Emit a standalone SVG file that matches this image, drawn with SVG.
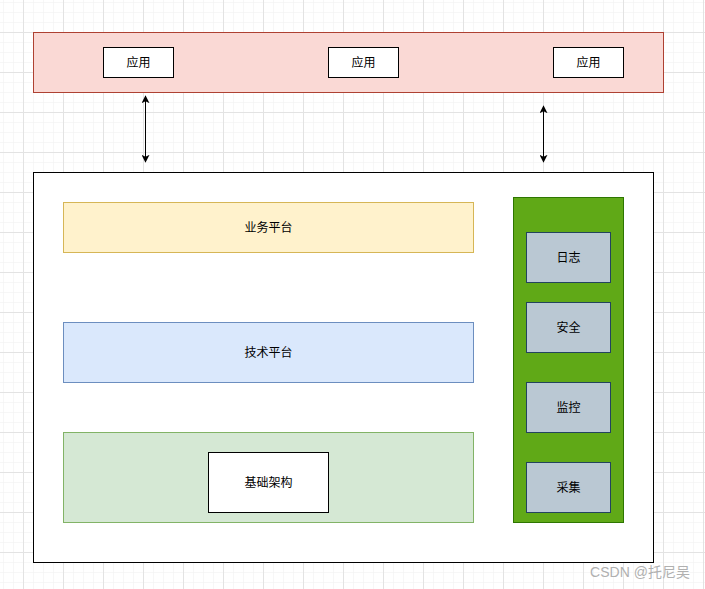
<svg xmlns="http://www.w3.org/2000/svg" width="705" height="589" viewBox="0 0 705 589">
<defs>
<pattern id="minor" x="3" y="2" width="10" height="10" patternUnits="userSpaceOnUse">
<path d="M0 0H10M0 0V10" fill="none" stroke="#f0f0f0" stroke-width="1"/>
</pattern>
<pattern id="major" x="23" y="32" width="40" height="40" patternUnits="userSpaceOnUse">
<path d="M0 0.5H40M0.5 0V40" fill="none" stroke="#e3e3e3" stroke-width="1"/>
</pattern>
<marker id="ah" viewBox="0 0 10 10" refX="9" refY="5" markerWidth="8" markerHeight="8" markerUnits="userSpaceOnUse" orient="auto-start-reverse">
<path d="M0 0L10 5L0 10L2.5 5Z" fill="#000"/>
</marker>
<style>
text{font-family:"Liberation Sans","Noto Sans CJK SC",sans-serif;font-size:12px;fill:#000;text-anchor:middle;dominant-baseline:central}
.app{fill:#fff;stroke:#000;stroke-width:1}
.side{fill:#bac8d3;stroke:#23445d;stroke-width:1}
.conn{stroke:#000;stroke-width:1;fill:none;marker-start:url(#ah);marker-end:url(#ah)}
</style>
</defs>
<rect width="705" height="589" fill="#fff"/>
<rect width="705" height="589" fill="url(#minor)"/>
<rect width="705" height="589" fill="url(#major)"/>

<g id="app-layer">
<rect x="33.5" y="32.5" width="630" height="60" fill="#fad9d5" stroke="#ae4132"/>
</g>
<g id="app1"><rect class="app" x="103.5" y="47.5" width="70" height="30"/><text x="138.5" y="62.5">应用</text></g>
<g id="app2"><rect class="app" x="328.5" y="47.5" width="70" height="30"/><text x="363.5" y="62.5">应用</text></g>
<g id="app3"><rect class="app" x="553.5" y="47.5" width="70" height="30"/><text x="588.5" y="62.5">应用</text></g>

<g id="platform">
<rect x="33.5" y="172.5" width="620" height="390" fill="#fff" stroke="#000"/>
</g>
<g id="business"><rect x="63.5" y="202.5" width="410" height="50" fill="#fff2cc" stroke="#d6b656"/><text x="268.5" y="227.5">业务平台</text></g>
<g id="tech"><rect x="63.5" y="322.5" width="410" height="60" fill="#dae8fc" stroke="#6c8ebf"/><text x="268.5" y="352.5">技术平台</text></g>
<g id="infra-layer"><rect x="63.5" y="432.5" width="410" height="90" fill="#d5e8d4" stroke="#82b366"/></g>
<g id="infra"><rect class="app" x="208.5" y="452.5" width="120" height="60"/><text x="268.5" y="482.5">基础架构</text></g>

<g id="side-column"><rect x="513.5" y="197.5" width="110" height="325" fill="#60a917" stroke="#2d7600"/></g>
<g id="log"><rect class="side" x="526.5" y="232.5" width="84" height="50"/><text x="568.5" y="257.5">日志</text></g>
<g id="security"><rect class="side" x="526.5" y="302.5" width="84" height="50"/><text x="568.5" y="327.5">安全</text></g>
<g id="monitor"><rect class="side" x="526.5" y="382.5" width="84" height="50"/><text x="568.5" y="407.5">监控</text></g>
<g id="collect"><rect class="side" x="526.5" y="462.5" width="84" height="50"/><text x="568.5" y="487.5">采集</text></g>

<g id="connectors">
<line class="conn" x1="145.5" y1="96" x2="145.5" y2="162"/>
<line class="conn" x1="543.5" y1="106" x2="543.5" y2="162"/>
</g>

<text x="640" y="572" style="font-size:14px;fill:#b0b0b0">CSDN @托尼吴</text>
</svg>
